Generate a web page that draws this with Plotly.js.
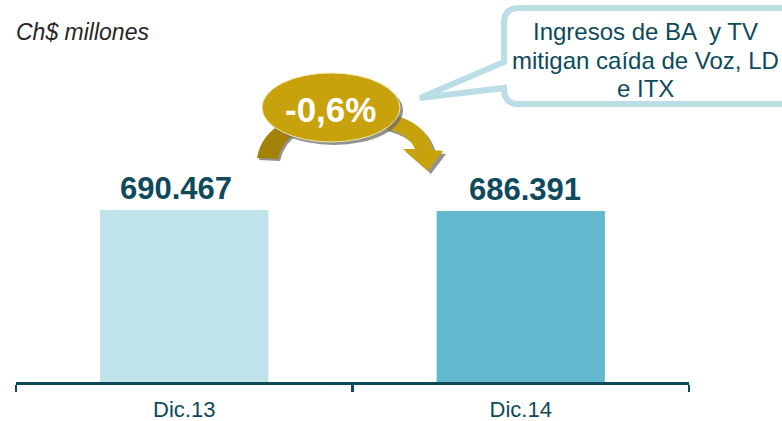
<!DOCTYPE html>
<html>
<head>
<meta charset="utf-8">
<script src="https://cdn.plot.ly/plotly-3.0.1.min.js"></script>
<style>html,body{margin:0;padding:0;background:#fff;}#chart{width:782px;height:421px;}</style>
</head>
<body>
<div id="chart"></div>
<script>
// ---- data ----
const categories = ['Dic.13', 'Dic.14'];
const revenues = [690467, 686391];          // Ch$ millones
const unitLabel = 'Ch$ millones';
const calloutLines = ['Ingresos de BA  y TV', 'mitigan caída de Voz, LD', 'e ITX'];

// ---- helpers ----
const W = 782, H = 421, ML = 16, MR = 93, MT = 0, MB = 39;
const PW = W - ML - MR, PH = H - MT - MB;
const X = px => (px - ML) / PW;
const Y = py => (H - MB - py) / PH;
const P = (x, y) => X(x).toFixed(5) + ',' + Y(y).toFixed(5);
function fmt(v) { return String(v).replace(/\B(?=(\d{3})+(?!\d))/g, '.'); }
const change = (revenues[1] / revenues[0] - 1) * 100;
const changeLabel = (change < 0 ? '-' : '+') + Math.abs(change).toFixed(1).replace('.', ',') + '%';

const teal = '#0E4A5C';
const gold = '#C8A20C';
const darkGold = '#A38208';
const shadow = 'rgba(110,110,110,0.75)';

// bubble path
function bubblePath(x0, y0, x1, y1, r, tailTop, tailBot, tx, ty) {
  return 'M' + P(x0 + r, y0) + ' L' + P(x1 - r, y0) + ' Q' + P(x1, y0) + ' ' + P(x1, y0 + r) +
    ' L' + P(x1, y1 - r) + ' Q' + P(x1, y1) + ' ' + P(x1 - r, y1) +
    ' L' + P(x0 + r, y1) + ' Q' + P(x0, y1) + ' ' + P(x0, y1 - r) +
    ' L' + P(x0, tailBot) + ' L' + P(tx, ty) + ' L' + P(x0, tailTop) +
    ' L' + P(x0, y0 + r) + ' Q' + P(x0, y0) + ' ' + P(x0 + r, y0) + ' Z';
}
function arrowPath(dx, dy) {
  const q = (x, y) => P(x + dx, y + dy);
  return 'M' + q(390, 114) + ' Q' + q(426, 122) + ' ' + q(433, 150) + ' L' + q(443, 151) +
    ' L' + q(428, 171) + ' L' + q(403, 149) + ' L' + q(415, 149) +
    ' Q' + q(409, 134) + ' ' + q(384, 128) + ' Z';
}
function bandPath(dx, dy) {
  const q = (x, y) => P(x + dx, y + dy);
  return 'M' + q(257, 158) + ' Q' + q(261, 134) + ' ' + q(285, 122) + ' L' + q(297, 132) +
    ' Q' + q(282, 141) + ' ' + q(278, 159) + ' Z';
}

const shapes = [
  {type: 'path', xref: 'paper', yref: 'paper', path: bubblePath(504, 8, 800, 104, 15, 62, 88, 420, 98),
   fillcolor: '#FFFFFF', line: {color: '#BADDE6', width: 6}},
  {type: 'path', xref: 'paper', yref: 'paper', path: bandPath(2, 2), fillcolor: shadow, line: {width: 0}},
  {type: 'path', xref: 'paper', yref: 'paper', path: bandPath(0, 0), fillcolor: darkGold, line: {width: 0}},
  {type: 'path', xref: 'paper', yref: 'paper', path: arrowPath(3, 3), fillcolor: shadow, line: {width: 0}},
  {type: 'path', xref: 'paper', yref: 'paper', path: arrowPath(0, 0), fillcolor: gold, line: {width: 0}},
  {type: 'circle', xref: 'paper', yref: 'paper', x0: X(265), x1: X(403), y0: Y(76), y1: Y(145),
   fillcolor: shadow, line: {width: 0}},
  {type: 'circle', xref: 'paper', yref: 'paper', x0: X(262), x1: X(400), y0: Y(73), y1: Y(142),
   fillcolor: gold, line: {color: '#F3E7A6', width: 1}}
];

const annotations = [
  {xref: 'paper', yref: 'paper', x: X(14), y: Y(32), xanchor: 'left', yanchor: 'middle', showarrow: false,
   text: unitLabel, font: {family: 'Liberation Sans, Arial, sans-serif', size: 23, style: 'italic', color: '#262626'}},
  {xref: 'paper', yref: 'paper', x: X(330), y: Y(109), xanchor: 'center', yanchor: 'middle', showarrow: false,
   text: changeLabel, font: {family: 'Liberation Sans, Arial, sans-serif', size: 35, weight: 'bold', color: '#FFFFFF'}}
];
const barShift = [-8, 4];
categories.forEach((c, i) => {
  annotations.push({x: c, y: revenues[i], xref: 'x', yref: 'y', yanchor: 'bottom', xanchor: 'center',
    yshift: 2, xshift: barShift[i], showarrow: false, text: fmt(revenues[i]),
    font: {family: 'Liberation Sans, Arial, sans-serif', size: 31, weight: 'bold', color: teal}});
});
const lineY = [31, 60, 88];
calloutLines.forEach((t, i) => {
  annotations.push({xref: 'paper', yref: 'paper', x: X(645), y: Y(lineY[i]), xanchor: 'center', yanchor: 'middle',
    showarrow: false, text: t, font: {family: 'Liberation Sans, Arial, sans-serif', size: 24, color: teal}});
});

const trace = {
  type: 'bar', x: categories, y: revenues, width: 0.5,
  marker: {color: ['#C0E2EB', '#62B8CD'], line: {width: 0}},
  hoverinfo: 'skip'
};

const layout = {
  width: W, height: H, margin: {l: ML, r: MR, t: MT, b: MB},
  paper_bgcolor: '#FFFFFF', plot_bgcolor: '#FFFFFF', showlegend: false,
  xaxis: {type: 'category', range: [-0.5, 1.5], showline: true, linecolor: teal, linewidth: 2.5,
    ticks: 'outside', tickson: 'boundaries', ticklen: 7, tickwidth: 2.5, tickcolor: teal,
    ticklabelstandoff: 6,
    tickfont: {family: 'Liberation Sans, Arial, sans-serif', size: 22, color: teal},
    showgrid: false, zeroline: false, fixedrange: true},
  yaxis: {range: [0, revenues[0] * 382 / 172], visible: false, showgrid: false, zeroline: false, fixedrange: true},
  shapes: shapes, annotations: annotations
};

Plotly.newPlot('chart', [trace], layout, {displayModeBar: false, staticPlot: true});
</script>
</body>
</html>
